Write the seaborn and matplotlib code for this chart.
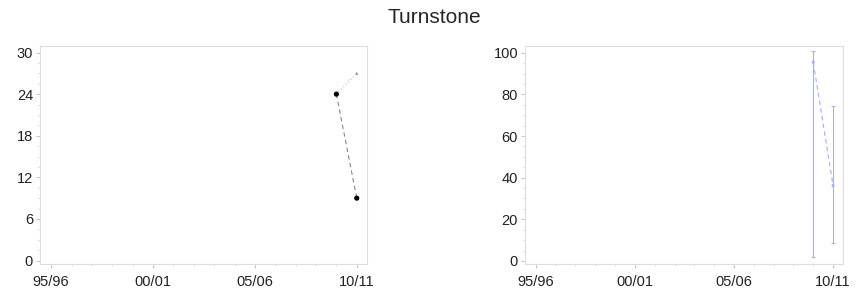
import matplotlib
matplotlib.use("Agg")
import matplotlib.pyplot as plt
import seaborn as sns
import pandas as pd
from matplotlib.ticker import MultipleLocator

seasons = ["95/96", "96/97", "97/98", "98/99", "99/00", "00/01", "01/02", "02/03",
           "03/04", "04/05", "05/06", "06/07", "07/08", "08/09", "09/10", "10/11"]
tick_labels = ["95/96", "00/01", "05/06", "10/11"]

# left panel: counts
count_seasons = ["09/10", "10/11"]
count_main = [24, 9]
count_alt = [24, 27]

# right panel: index with confidence limits
index_seasons = ["09/10", "10/11"]
index_vals = [95.5, 36.2]
index_low = [1.9, 8.8]
index_high = [101, 74.4]

sns.set_style("white")
plt.rcParams["font.family"] = ["Liberation Sans", "DejaVu Sans"]

pos = {s: i for i, s in enumerate(seasons)}
left_df = pd.DataFrame({"x": [pos[s] for s in count_seasons],
                        "main": count_main, "alt": count_alt})
right_df = pd.DataFrame({"x": [pos[s] for s in index_seasons], "val": index_vals,
                         "low": index_low, "high": index_high})

fig = plt.figure(figsize=(8.63, 2.96), dpi=100)
ax1 = fig.add_axes([0.0463, 0.108, 0.3789, 0.738])
ax2 = fig.add_axes([0.6083, 0.108, 0.3685, 0.738])

# left chart
sns.lineplot(data=left_df, x="x", y="alt", ax=ax1, color="#bbbbbb", lw=0.8,
             linestyle=(0, (1, 2)))
sns.scatterplot(x=left_df["x"].iloc[-1:], y=left_df["alt"].iloc[-1:], ax=ax1,
                marker="^", s=6, color="#999999", edgecolor="none")
sns.lineplot(data=left_df, x="x", y="main", ax=ax1, color="#888888", lw=0.8,
             linestyle=(0, (4, 3)))
sns.scatterplot(data=left_df, x="x", y="main", ax=ax1, s=14, color="black",
                edgecolor="none", zorder=5)
ax1.set_ylim(-0.5, 31)
ax1.yaxis.set_major_locator(MultipleLocator(6))
ax1.yaxis.set_minor_locator(MultipleLocator(1.5))

# right chart
ax2.errorbar(right_df["x"], right_df["val"],
             yerr=[right_df["val"] - right_df["low"], right_df["high"] - right_df["val"]],
             fmt="none", ecolor="#aaaaff", elinewidth=0.8, capsize=1.2, capthick=0.8)
sns.lineplot(data=right_df, x="x", y="val", ax=ax2, color="#aaaaff", lw=0.8,
             linestyle=(0, (4, 3)))
sns.scatterplot(data=right_df, x="x", y="val", ax=ax2, s=5, color="#aaaaff",
                edgecolor="none")
ax2.set_ylim(-1.5, 103.5)
ax2.yaxis.set_major_locator(MultipleLocator(20))
ax2.yaxis.set_minor_locator(MultipleLocator(5))

for ax in (ax1, ax2):
    ax.set_xlim(-0.55, 15.5)
    ax.set_xticks([pos[s] for s in tick_labels])
    ax.set_xticklabels(tick_labels)
    ax.xaxis.set_minor_locator(MultipleLocator(1))
    ax.set_xlabel("")
    ax.set_ylabel("")
    for sp in ax.spines.values():
        sp.set_color("#dddddd")
        sp.set_linewidth(0.8)
    ax.tick_params(which="major", direction="out", length=3, width=0.6,
                   color="#bbbbbb", labelsize=10.5, labelcolor="#222222", pad=2)
    ax.tick_params(axis="x", which="major", pad=5)
    ax.tick_params(which="minor", direction="out", length=1.5, width=0.5,
                   color="#cccccc")
    ax.tick_params(axis="both", which="both", bottom=True, left=True)

fig.text(0.503, 0.94, "Turnstone", ha="center", va="center", fontsize=15)

fig.savefig("out.png", dpi=100)
